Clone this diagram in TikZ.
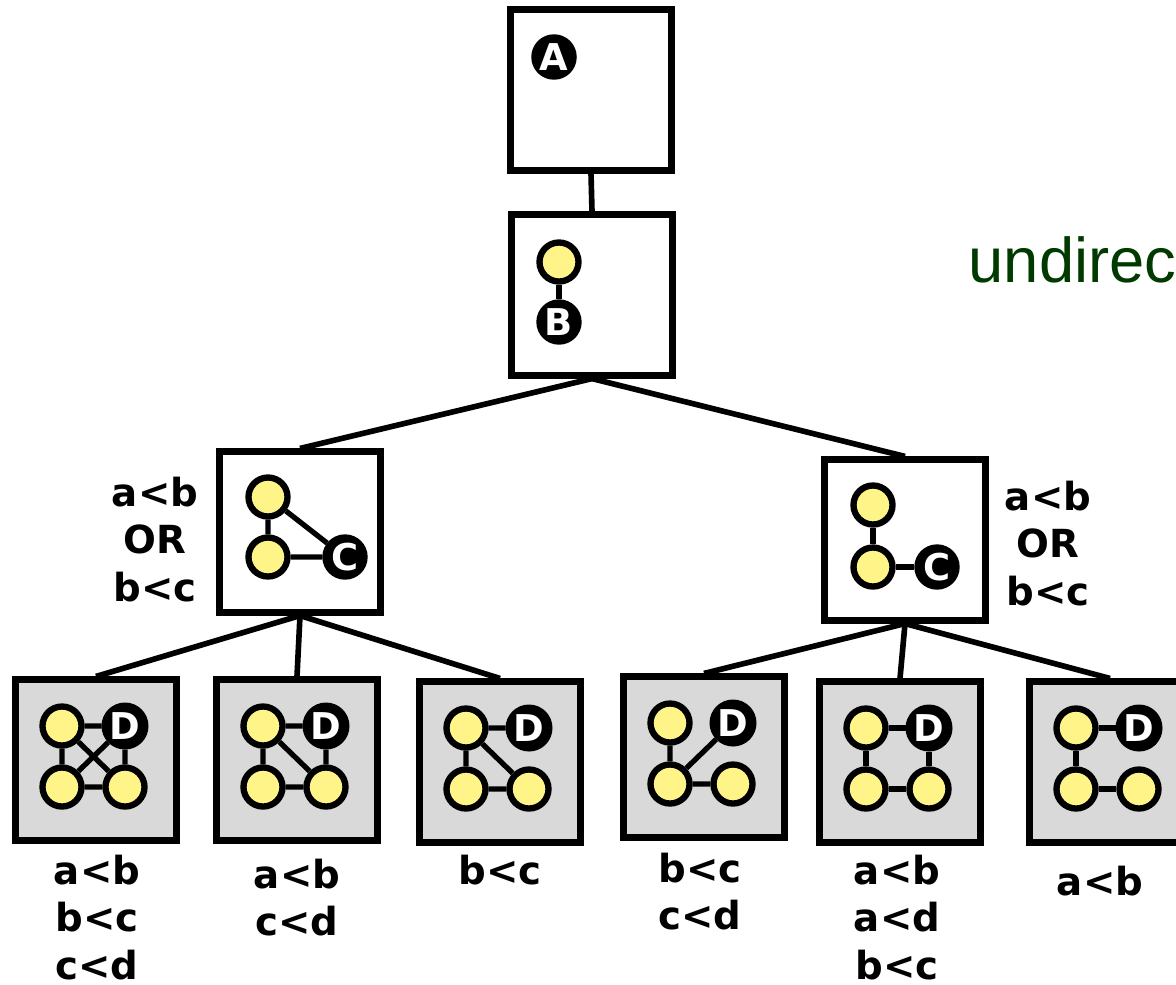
\documentclass[tikz,border=0pt]{standalone}
\usepackage{fontspec}
\setmainfont{DejaVu Sans}
\newfontfamily\notefont{Liberation Sans}
\definecolor{vertexyellow}{RGB}{255,244,136}
\definecolor{leafgray}{RGB}{217,217,217}
\definecolor{notegreen}{RGB}{0,58,0}
\begin{document}
\begin{tikzpicture}[x=0.01cm, y=-0.01cm,
    box/.style={draw, line width=2pt, minimum size=1.6cm, inner sep=0pt},
    leaf/.style={box, fill=leafgray},
    vtx/.style={circle, draw, line width=1.8pt, fill=vertexyellow, minimum size=0.39cm, inner sep=0pt},
    named/.style={vtx, fill=black, text=white, font=\bfseries\fontsize{10.5}{10.5}\selectfont},
    tree/.style={line width=1.6pt},
    gedge/.style={line width=1.5pt},
    cond/.style={font=\bfseries\fontsize{11}{13.5}\selectfont, align=center, inner sep=0pt, anchor=north}]

    \useasboundingbox (0,0) rectangle (1176,984);
    \clip (0,0) rectangle (1176,984);

    % root and the single edge
    \node[box] (boxA) at (591,90) {};
    \node[named] (vA) at (554,57) {A};

    \node[box] (boxB) at (592,295) {};
    \node[vtx] (b1) at (559,262) {};
    \node[named] (vB) at (559,322) {B};
    \draw[gedge] (b1) -- (vB);

    \node[text=notegreen, font=\notefont\fontsize{18}{18}\selectfont, anchor=base west, inner sep=0pt] (note) at (968,282) {undirec};

    % the two triangles / paths with C
    \node[box] (boxCl) at (300,532) {};
    \node[vtx] (cl1) at (268,497) {};
    \node[vtx] (cl2) at (268,557) {};
    \node[named] (vCl) at (345,557) {C};
    \draw[gedge] (cl1) -- (cl2) -- (vCl) -- (cl1);

    \node[box] (boxCr) at (905,540) {};
    \node[vtx] (cr1) at (873,505) {};
    \node[vtx] (cr2) at (873,567) {};
    \node[named] (vCr) at (937,567) {C};
    \draw[gedge] (cr1) -- (cr2) -- (vCr);

    % leaves
    \foreach \n/\x/\y in {1/96/760, 2/297/760, 3/500/762, 4/704/757, 5/900/762, 6/1110/762} {
        \node[leaf] (leaf\n) at (\x,\y) {};
        \node[vtx] (tl\n) at ({\x-34},{\y-34}) {};
        \node[vtx] (bl\n) at ({\x-34},{\y+27}) {};
        \node[vtx] (br\n) at ({\x+29},{\y+27}) {};
        \node[named] (d\n) at ({\x+29},{\y-34}) {D};
    }
    \draw[gedge] (tl1) -- (d1) -- (br1) -- (bl1) -- (tl1) -- (br1) (bl1) -- (d1);
    \draw[gedge] (tl2) -- (d2) -- (br2) -- (bl2) -- (tl2) -- (br2);
    \draw[gedge] (tl3) -- (d3) (tl3) -- (bl3) -- (br3) -- (tl3);
    \draw[gedge] (tl4) -- (bl4) -- (br4) (bl4) -- (d4);
    \draw[gedge] (tl5) -- (d5) -- (br5) -- (bl5) -- (tl5);
    \draw[gedge] (d6) -- (tl6) -- (bl6) -- (br6);

    % tree connectors
    \draw[tree] (boxA.south) -- (boxB.north);
    \draw[tree] (boxB.south) -- (boxCl.north);
    \draw[tree] (boxB.south) -- (boxCr.north);
    \foreach \n in {1,2,3} \draw[tree] (boxCl.south) -- (leaf\n.north);
    \foreach \n in {4,5,6} \draw[tree] (boxCr.south) -- (leaf\n.north);

    % conditions
    \node[cond] (condCl) at (155,476) {a<b\\OR\\b<c};
    \node[cond] (condCr) at (1048,480) {a<b\\OR\\b<c};
    \node[cond] (cond1) at (97,854) {a<b\\b<c\\c<d};
    \node[cond] (cond2) at (297,858) {a<b\\c<d};
    \node[cond] (cond3) at (500,854) {b<c};
    \node[cond] (cond4) at (700,852) {b<c\\c<d};
    \node[cond] (cond5) at (897,854) {a<b\\a<d\\b<c};
    \node[cond] (cond6) at (1100,865) {a<b};
\end{tikzpicture}
\end{document}
